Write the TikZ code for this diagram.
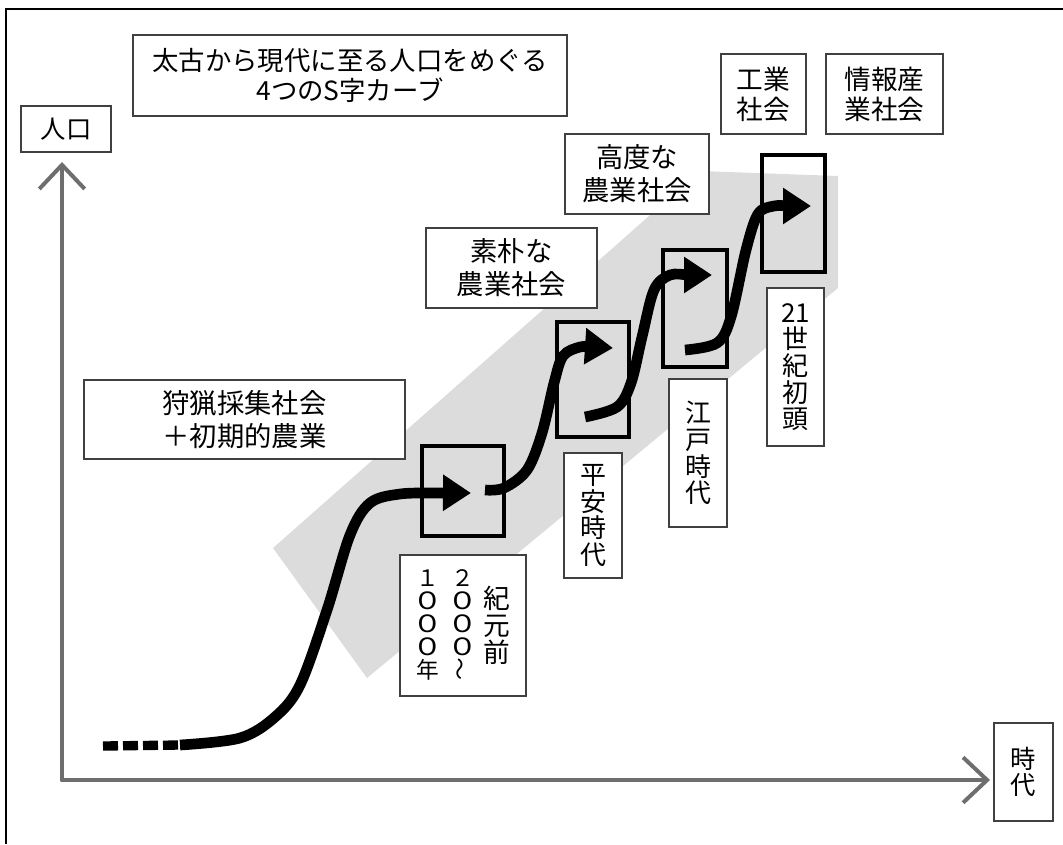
\documentclass[tikz,border=0pt]{standalone}
\usepackage{fontspec}
\usepackage{graphicx}
\setmainfont{Noto Sans CJK JP}
\usetikzlibrary{arrows.meta}
\definecolor{bandgray}{HTML}{DCDCDC}
\definecolor{axisgray}{HTML}{6E6E6E}
\definecolor{boxline}{HTML}{404040}
\newsavebox{\vwave}
\newcommand{\wz}{\scalebox{1.35}[1.05]{０}}
\begin{document}
\sbox{\vwave}{\fontsize{17pt}{17pt}\selectfont\rotatebox{90}{～}}
\begin{tikzpicture}[x=0.75pt,y=-0.75pt,
  sz/.style 2 args={minimum width=#1*0.75pt,minimum height=#2*0.75pt},
  lbl/.style={draw=boxline,line width=1.1pt,fill=white,inner sep=0pt,align=center,
    font=\fontsize{20.5pt}{24.75pt}\selectfont},
  vlbl/.style={lbl,font=\fontsize{19.5pt}{20pt}\selectfont},
  colstack/.style={inner sep=0pt,align=center},
  erabox/.style={draw=black,line width=2.3pt,inner sep=0pt},
  scurve/.style={line width=8pt,-{Triangle[length=21pt,width=26pt]}},
  axisline/.style={draw=axisgray,line width=3pt,line cap=round,-{Straight Barb[length=18pt,width=34pt]}},
]
\useasboundingbox (0,0) rectangle (1063,844);

% frame
\draw[line width=1.6pt] (6,844) -- (6,9) -- (1063,9);

% grey band
\fill[bandgray] (273,548) -- (700,171) -- (838,176) -- (838,288) -- (367,678) -- cycle;

% axes
\coordinate (O) at (62,780);
\coordinate (Ytip) at (62,162);
\coordinate (Xtip) at (990,780);
\draw[axisline] (O) -- (Ytip);
\draw[axisline] (O) -- (Xtip);

% curves
\coordinate (d0) at (103,746);
\coordinate (s1) at (180,745);
\coordinate (e1) at (471,493);
\coordinate (s2) at (485,490);
\coordinate (e2) at (613,348);
\coordinate (s3) at (585,417);
\coordinate (e3) at (712,275);
\coordinate (s4) at (685,350);
\coordinate (e4) at (811,206);

\draw[line width=7pt,dash pattern=on 11.25pt off 3.75pt] (d0) -- (s1);
\draw[scurve] plot[smooth,tension=0.55] coordinates {(s1) (240,738) (275,717) (300,685) (327,610) (350,535) (370,503) (400,494) (440,493) (e1)};
\draw[scurve] plot[smooth,tension=0.55] coordinates {(s2) (504,488) (527,470) (542,433) (554,383) (563,356) (580,347) (595,347) (e2)};
\draw[scurve] plot[smooth,tension=0.55] coordinates {(s3) (617,407) (631,383) (642,337) (654,290) (670,275) (690,275) (e3)};
\draw[scurve] plot[smooth,tension=0.55] coordinates {(s4) (717,343) (731,317) (746,250) (758,214) (774,206) (790,206) (e4)};

% era boxes
\node[erabox,sz={82}{90}] (b1) at (463,491) {};
\node[erabox,sz={72}{115}] (b2) at (593,379.5) {};
\node[erabox,sz={64}{117}] (b3) at (695,308.5) {};
\node[erabox,sz={63}{117}] (b4) at (793.5,213.5) {};

% labels
\node[lbl,sz={434}{81},font=\fontsize{19.8pt}{22pt}\selectfont] (title) at (350,75.5) {太古から現代に至る人口をめぐる\\4つのS字カーブ};
\node[lbl,sz={90}{46},font=\fontsize{19pt}{20pt}\selectfont] (pop) at (66,129) {人口};
\node[lbl,sz={85}{80},font=\fontsize{20pt}{22.5pt}\selectfont] (ind) at (763.5,94) {工業\\社会};
\node[lbl,sz={117}{80},font=\fontsize{20pt}{22.5pt}\selectfont] (info) at (884.5,94) {情報産\\業社会};
\node[lbl,sz={144}{80}] (adv) at (637,174) {高度な\\農業社会};
\node[lbl,sz={171}{80}] (simple) at (511.5,268) {素朴な\\農業社会};
\node[lbl,sz={321}{79}] (hunt) at (244.5,419.5) {狩猟採集社会\\＋初期的農業};

\node[lbl,sz={126}{141}] (bc) at (463,625.5) {};
\node[colstack,font=\fontsize{20pt}{20.25pt}\selectfont] (bc3) at (497,625) {紀\\元\\前};
\node[colstack,font=\fontsize{17pt}{17.2pt}\selectfont] (bc2) at (463,625) {２\\\wz\\\wz\\\wz\\\usebox{\vwave}};
\node[colstack,font=\fontsize{17pt}{17.2pt}\selectfont] (bc1) at (428,625) {１\\\wz\\\wz\\\wz\\年};

\node[vlbl,sz={58}{125}] (heian) at (593,515.5) {平\\安\\時\\代};
\node[vlbl,sz={58}{148}] (edo) at (698,453) {江\\戸\\時\\代};
\node[vlbl,sz={57}{158}] (c21) at (795.5,367) {21\\世\\紀\\初\\頭};
\node[lbl,sz={59}{98},font=\fontsize{19pt}{19pt}\selectfont] (jidai) at (1023.5,772) {時\\代};
\end{tikzpicture}
\end{document}
